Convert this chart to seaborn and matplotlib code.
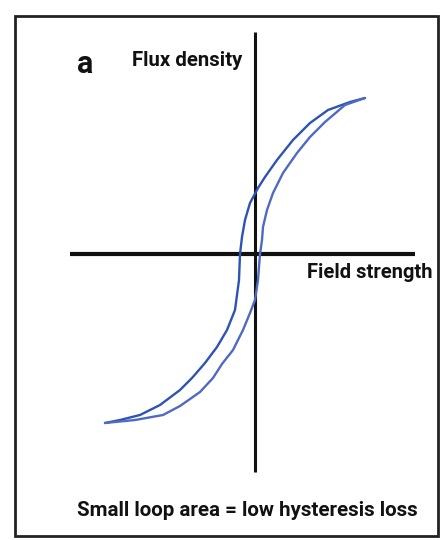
import matplotlib
matplotlib.use("Agg")
import matplotlib.pyplot as plt
from matplotlib.patches import Rectangle
import seaborn as sns
import pandas as pd

# Hysteresis loop of a soft magnetic material (arbitrary units)
# descending branch: positive saturation -> negative saturation
desc_H = [1.10, 0.95, 0.73, 0.55, 0.38, 0.22, 0.10, 0.03, -0.05, -0.10, -0.13, -0.15,
          -0.16, -0.20, -0.28, -0.38, -0.50, -0.63, -0.75, -0.95, -1.15, -1.35, -1.50]
desc_B = [1.56, 1.52, 1.44, 1.31, 1.14, 0.94, 0.77, 0.66, 0.51, 0.34, 0.17, 0.00,
          -0.26, -0.56, -0.76, -0.93, -1.09, -1.24, -1.36, -1.51, -1.61, -1.66, -1.69]
# ascending branch: negative saturation -> positive saturation
asc_H = [-1.50, -1.20, -0.92, -0.75, -0.55, -0.42, -0.33, -0.22, -0.12, -0.05, 0.00, 0.03,
         0.05, 0.07, 0.08, 0.12, 0.18, 0.28, 0.42, 0.55, 0.70, 0.90, 1.10]
asc_B = [-1.69, -1.66, -1.61, -1.52, -1.38, -1.24, -1.10, -0.96, -0.76, -0.59, -0.46, -0.26,
         0.00, 0.14, 0.27, 0.44, 0.61, 0.81, 1.01, 1.17, 1.32, 1.49, 1.56]

panel_label = "a"
y_label = "Flux density"
x_label = "Field strength"
caption = "Small loop area = low hysteresis loss"

sns.set_theme(style="white")
plt.rcParams["font.family"] = ["Roboto", "DejaVu Sans"]

loop = pd.concat([
    pd.DataFrame({"H": desc_H, "B": desc_B, "branch": "descending"}),
    pd.DataFrame({"H": asc_H, "B": asc_B, "branch": "ascending"}),
])

fig = plt.figure(figsize=(4.41, 5.40), dpi=100)
ax = fig.add_axes([0, 0, 1, 1])
ax.set_xlim(-2.55, 1.86)
ax.set_ylim(-2.86, 2.54)
ax.axis("off")

# coordinate axes
ax.plot([-1.85, 1.60], [0, 0], color="#111111", lw=3, solid_capstyle="butt")
ax.plot([0, 0], [-2.18, 2.22], color="#111111", lw=2.2, solid_capstyle="butt")

sns.lineplot(data=loop, x="H", y="B", hue="branch", sort=False, estimator=None,
             units="branch", palette={"descending": "#2f53b5", "ascending": "#5069c2"},
             lw=1.7, legend=False, ax=ax, solid_joinstyle="round")

# panel frame
fig.patches.append(Rectangle((15 / 441, 1 - 536 / 540), (438 - 15) / 441, (536 - 16) / 540,
                             transform=fig.transFigure, fill=False, ec="#222222", lw=2))


def fitted_text(x_px, y_px, width_px, s, size):
    """Place bold text with its left edge at x_px and scale it to width_px."""
    t = fig.text(x_px / 441, 1 - y_px / 540, s, fontsize=size, fontweight="bold",
                 color="#111111", ha="left", va="center")
    fig.canvas.draw()
    w = t.get_window_extent().width
    t.set_fontsize(size * width_px / w)
    return t


fig.text(77 / 441, 1 - 64 / 540, panel_label, fontsize=22, fontweight="bold",
         color="#111111", ha="left", va="center")
fitted_text(132, 60, 111, y_label, 14)
fitted_text(307, 273, 126, x_label, 14)
fitted_text(77, 511, 343, caption, 16)

fig.savefig("out.png", dpi=100, facecolor="white")
